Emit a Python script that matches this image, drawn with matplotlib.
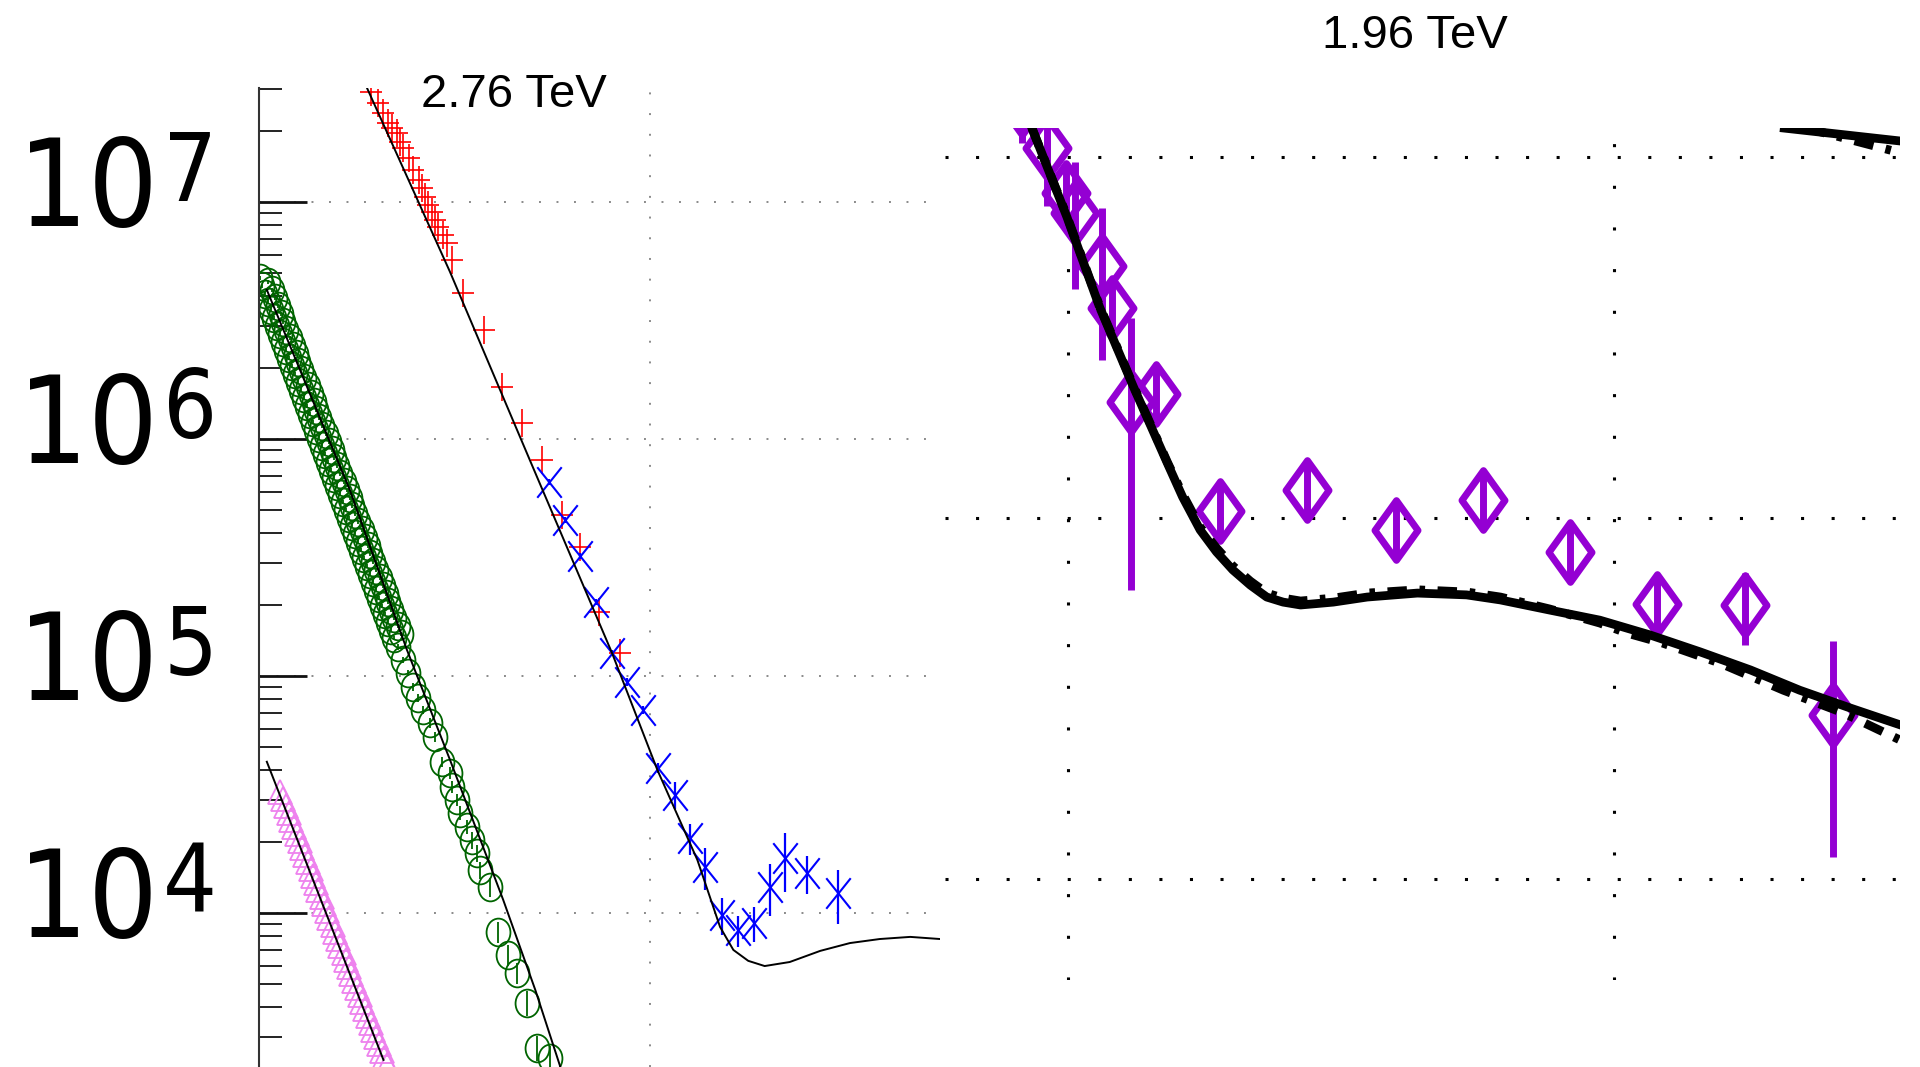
import numpy as np
import matplotlib
matplotlib.use("Agg")
import matplotlib.pyplot as plt
from matplotlib import font_manager
from matplotlib.path import Path
from matplotlib.ticker import LogLocator, NullFormatter, NullLocator, FixedLocator

plt.rcParams['lines.scale_dashes'] = False

# ---------------- 2.76 TeV panel: |t| [GeV^2] vs log10(dsigma/dt) ----------------
red_t = [0.143, 0.152, 0.159, 0.165, 0.170, 0.176, 0.180, 0.184, 0.191, 0.197,
         0.204, 0.208, 0.212, 0.216, 0.221, 0.225, 0.229, 0.235, 0.240, 0.246,
         0.261, 0.287, 0.310, 0.336, 0.361, 0.387, 0.410, 0.434, 0.461]
red_lg = [7.464, 7.417, 7.374, 7.332, 7.311, 7.290, 7.254, 7.227, 7.184, 7.135,
          7.093, 7.058, 7.022, 6.987, 6.959, 6.924, 6.896, 6.861, 6.826, 6.755,
          6.615, 6.460, 6.221, 6.066, 5.911, 5.679, 5.544, 5.271, 5.095]

blue_t = [0.370, 0.391, 0.410, 0.431, 0.451, 0.470, 0.491, 0.510, 0.531, 0.551,
          0.570, 0.591, 0.612, 0.632, 0.653, 0.672, 0.700, 0.740]
blue_lg = [5.820, 5.658, 5.506, 5.314, 5.096, 4.976, 4.857, 4.611, 4.498, 4.315,
           4.195, 3.992, 3.928, 3.957, 4.111, 4.231, 4.168, 4.083]
blue_rel_err = [0.03, 0.03, 0.03, 0.03, 0.03, 0.04, 0.04, 0.05, 0.13, 0.15,
                0.20, 0.18, 0.15, 0.17, 0.25, 0.28, 0.18, 0.26]

green_t = [0.001, 0.012, 0.004, 0.016, 0.008, 0.020, 0.012, 0.024, 0.015, 0.028,
           0.019, 0.031, 0.023, 0.035, 0.027, 0.039, 0.031, 0.043, 0.035, 0.047,
           0.038, 0.050, 0.042, 0.054, 0.046, 0.058, 0.050, 0.062, 0.054, 0.066,
           0.058, 0.070, 0.061, 0.073, 0.065, 0.077, 0.069, 0.081, 0.073, 0.085,
           0.077, 0.089, 0.081, 0.093, 0.084, 0.096, 0.088, 0.100, 0.092, 0.104,
           0.096, 0.108, 0.100, 0.112, 0.104, 0.116, 0.107, 0.119, 0.111, 0.123,
           0.115, 0.127, 0.119, 0.131, 0.123, 0.135, 0.127, 0.139, 0.130, 0.142,
           0.134, 0.146, 0.138, 0.150, 0.142, 0.154, 0.146, 0.158, 0.149, 0.162,
           0.153, 0.165, 0.157, 0.169, 0.161, 0.173, 0.165, 0.177, 0.169, 0.181,
           0.172,
           0.178, 0.184, 0.190, 0.197, 0.203, 0.210, 0.219, 0.225, 0.234, 0.244,
           0.247, 0.253, 0.257, 0.266, 0.272, 0.279, 0.282, 0.295, 0.305, 0.318,
           0.330, 0.342, 0.355, 0.372]
green_lg = [6.679, 6.662, 6.646, 6.629, 6.612, 6.595, 6.578, 6.561, 6.544, 6.527,
            6.511, 6.494, 6.477, 6.460, 6.443, 6.426, 6.409, 6.392, 6.375, 6.359,
            6.342, 6.325, 6.308, 6.291, 6.274, 6.257, 6.240, 6.224, 6.207, 6.190,
            6.173, 6.156, 6.139, 6.122, 6.105, 6.089, 6.072, 6.055, 6.038, 6.021,
            6.004, 5.987, 5.970, 5.954, 5.937, 5.920, 5.903, 5.886, 5.869, 5.852,
            5.835, 5.819, 5.802, 5.785, 5.768, 5.751, 5.734, 5.717, 5.700, 5.684,
            5.667, 5.650, 5.633, 5.616, 5.599, 5.582, 5.565, 5.549, 5.532, 5.515,
            5.498, 5.481, 5.464, 5.447, 5.430, 5.413, 5.397, 5.380, 5.363, 5.346,
            5.329, 5.312, 5.295, 5.278, 5.262, 5.245, 5.228, 5.211, 5.194, 5.177,
            5.160,
            5.122, 5.068, 5.013, 4.954, 4.907, 4.857, 4.802, 4.743, 4.637, 4.591,
            4.532, 4.477, 4.422, 4.363, 4.308, 4.253, 4.181, 4.110, 3.920, 3.823,
            3.747, 3.620, 3.430, 3.388]
green_rel_err = [0.02] * 91 + [0.03, 0.03, 0.03, 0.04, 0.04, 0.04, 0.05, 0.05, 0.05, 0.06,
                               0.06, 0.06, 0.07, 0.07, 0.08, 0.08, 0.08, 0.09, 0.10, 0.10,
                               0.10, 0.12, 0.12, 0.12]

violet_t = [0.027, 0.031, 0.034, 0.038, 0.041, 0.045, 0.048, 0.052, 0.055, 0.059,
            0.062, 0.066, 0.069, 0.073, 0.076, 0.080, 0.083, 0.087, 0.090, 0.094,
            0.097, 0.101, 0.104, 0.108, 0.111, 0.115, 0.118, 0.122, 0.125, 0.129,
            0.132, 0.136, 0.139, 0.143, 0.146, 0.150, 0.153, 0.157, 0.160, 0.164]
violet_lg = [4.511, 4.481, 4.452, 4.422, 4.392, 4.363, 4.333, 4.304, 4.274, 4.245,
             4.215, 4.186, 4.156, 4.127, 4.097, 4.068, 4.038, 4.008, 3.979, 3.949,
             3.920, 3.890, 3.861, 3.831, 3.802, 3.772, 3.743, 3.713, 3.684, 3.654,
             3.625, 3.595, 3.565, 3.536, 3.506, 3.477, 3.447, 3.418, 3.388, 3.359]

# model curves
model_rb_t = [0.138, 0.244, 0.346, 0.451, 0.509, 0.560, 0.589, 0.606, 0.625, 0.646,
              0.678, 0.717, 0.755, 0.793, 0.832, 0.870]
model_rb_lg = [7.481, 6.705, 5.911, 5.097, 4.603, 4.224, 3.941, 3.844, 3.798, 3.776,
               3.793, 3.840, 3.873, 3.890, 3.899, 3.890]
model_g_t = [0.010, 0.116, 0.189, 0.244, 0.312, 0.353, 0.385]
model_g_lg = [6.629, 5.785, 5.110, 4.646, 4.055, 3.675, 3.350]
model_v_t = [0.010, 0.159]
model_v_lg = [4.638, 3.380]

decades = [4, 5, 6, 7]

# ---------------- 1.96 TeV panel ----------------
d0_t = [0.458, 0.481, 0.498, 0.506, 0.531, 0.540, 0.558, 0.581, 0.639, 0.719,
        0.800, 0.880, 0.960, 1.039, 1.120, 1.201]
d0_y = [1.39, 1.06, 0.795, 0.700, 0.499, 0.382, 0.210, 0.221, 0.1045, 0.1196,
        0.0926, 0.1122, 0.0805, 0.0578, 0.0574, 0.0285]
d0_err = [0.30, 0.33, 0.14, 0.27, 0.225, 0.066, 0.147, 0.038, 0.018, 0.021,
          0.016, 0.019, 0.014, 0.010, 0.013, 0.017]

fit_t = [0.467, 0.499, 0.529, 0.560, 0.591, 0.605, 0.621, 0.636, 0.651, 0.667,
         0.682, 0.697, 0.713, 0.743, 0.774, 0.820, 0.865, 0.896, 0.941, 0.987,
         1.033, 1.079, 1.125, 1.170, 1.216, 1.262]
fit_lg = [0.080, -0.166, -0.416, -0.637, -0.848, -0.942, -1.033, -1.094, -1.144, -1.186,
          -1.219, -1.233, -1.241, -1.233, -1.219, -1.208, -1.213, -1.227, -1.255, -1.283,
          -1.324, -1.371, -1.421, -1.477, -1.526, -1.573]
fit2_t = [0.467, 0.499, 0.529, 0.560, 0.591, 0.605, 0.621, 0.636, 0.651, 0.667,
          0.682, 0.697, 0.713, 0.743, 0.774, 0.820, 0.865, 0.896, 0.941, 0.987,
          1.012, 1.044, 1.097, 1.155, 1.210, 1.262]
fit2_lg = [0.080, -0.163, -0.413, -0.634, -0.845, -0.934, -1.025, -1.083, -1.133, -1.175,
           -1.208, -1.222, -1.230, -1.222, -1.208, -1.199, -1.205, -1.219, -1.252, -1.291,
           -1.319, -1.346, -1.402, -1.477, -1.540, -1.615]
upper_t = [1.156, 1.263]
upper_lg = [0.080, 0.044]
upper2_t = [1.176, 1.263]
upper2_lg = [0.080, 0.011]

W, H = 1920, 1067
fig = plt.figure(figsize=(W / 100, H / 100), dpi=100)
fig.patch.set_facecolor('white')

# marker shapes (slightly taller than wide)
MV, LT = Path.MOVETO, Path.LINETO
plus_tall = Path([(-0.82, 0), (0.82, 0), (0, -1), (0, 1)], [MV, LT, MV, LT])
cross_tall = Path([(-0.8, -1), (0.8, 1), (-0.8, 1), (0.8, -1)], [MV, LT, MV, LT])
_uc = Path.unit_circle()
ellipse_tall = Path(_uc.vertices * np.array([0.86, 1.0]), _uc.codes)
diamond = Path([(0, 1), (0.72, 0), (0, -1), (-0.72, 0), (0, 1)],
               [MV, LT, LT, LT, Path.CLOSEPOLY])

# ---------- left panel ----------
axL = fig.add_axes([259 / W, 0.0, 681 / W, (H - 88) / H])
axL.set_yscale('log')
axL.set_xlim(0, 0.87)
axL.set_ylim(10 ** 3.350, 10 ** 7.481)
axL.xaxis.set_major_locator(NullLocator())
axL.yaxis.set_major_locator(FixedLocator([10.0 ** d for d in decades]))
axL.yaxis.set_minor_locator(LogLocator(base=10, subs=np.arange(2, 10), numticks=30))
axL.yaxis.set_minor_formatter(NullFormatter())
axL.tick_params(which='major', axis='y', direction='in', length=34.6, width=2.0,
                color='#111111', labelleft=False)
axL.tick_params(which='minor', axis='y', direction='in', length=16.6, width=1.4,
                color='#222222')
axL.tick_params(axis='x', bottom=False, labelbottom=False)
for s in ['top', 'right', 'bottom']:
    axL.spines[s].set_visible(False)
axL.spines['left'].set_linewidth(1.5)
axL.spines['left'].set_color('#333333')

for d in decades:
    axL.axhline(10.0 ** d, color='#8a8a8a', lw=1.4, dashes=(1.4, 11.2), zorder=0.5)
axL.axvline(0.5, color='#8a8a8a', lw=1.4, dashes=(1.4, 13.5), zorder=0.5)

axL.plot(violet_t, 10 ** np.array(violet_lg), ls='none', marker='^', ms=17,
         mfc='none', mec='#ee82ee', mew=1.3, zorder=2)

g_y = 10 ** np.array(green_lg)
axL.errorbar(green_t, g_y, yerr=g_y * np.array(green_rel_err), fmt='none',
             ecolor='#006400', elinewidth=1.3, capsize=0, zorder=2)
axL.plot(green_t, g_y, ls='none', marker=ellipse_tall, ms=20, mfc='none',
         mec='#006400', mew=1.3, zorder=2)

axL.plot(red_t, 10 ** np.array(red_lg), ls='none', marker=plus_tall, ms=20,
         mfc='none', mec='#ff0000', mew=1.2, zorder=2)

b_y = 10 ** np.array(blue_lg)
axL.errorbar(blue_t, b_y, yerr=b_y * np.array(blue_rel_err), fmt='none',
             ecolor='#0000ff', elinewidth=1.6, capsize=0, zorder=2)
axL.plot(blue_t, b_y, ls='none', marker=cross_tall, ms=22, mfc='none',
         mec='#0000ff', mew=1.5, zorder=2)

for tt, lg in [(model_rb_t, model_rb_lg), (model_g_t, model_g_lg), (model_v_t, model_v_lg)]:
    axL.plot(tt, 10 ** np.array(lg), color='black', lw=1.4, zorder=3)

# decade labels on the left axis
has_condensed = any(f.name == 'DejaVu Sans' and 'condensed' in str(f.stretch)
                    for f in font_manager.fontManager.ttflist)
if has_condensed:
    base_kw = dict(family='DejaVu Sans', fontstretch='condensed')
    base_size, exp_size, exp_x = 88, 68, 163
else:
    base_kw = dict(family='DejaVu Sans')
    base_size, exp_size, exp_x = 78, 62, 168
for d in decades:
    ty = 202 + (7 - d) * 237
    fig.text(18 / W, 1 - (ty + 24) / H, '10', fontsize=base_size,
             ha='left', va='baseline', **base_kw)
    fig.text(exp_x / W, 1 - (ty - 1) / H, str(d), fontsize=exp_size,
             ha='left', va='baseline', **base_kw)

fig.text(421 / W, 1 - 107 / H, '2.76 TeV', fontsize=34, family='Liberation Sans',
         ha='left', va='baseline')

# ---------- right panel ----------
axR = fig.add_axes([945 / W, 1 - 980 / H, 955 / W, (980 - 128) / H])
axR.set_yscale('log')
axR.set_xlim(0.3874, 1.2619)
axR.set_ylim(10 ** -2.2798, 10 ** 0.0803)
axR.axis('off')

for v in [1.0, 0.1, 0.01]:
    axR.axhline(v, color='black', lw=2.2, dashes=(2.2, 19.8), zorder=0.5)
for v in [0.5, 1.0]:
    axR.axvline(v, color='black', lw=2.2, dashes=(2.2, 27.8), zorder=0.5)

axR.errorbar(d0_t, d0_y, yerr=d0_err, fmt='none', ecolor='#9400d3', elinewidth=5,
             capsize=0, zorder=2)
axR.plot(d0_t, d0_y, ls='none', marker=diamond, ms=43, mfc='none', mec='#9400d3',
         mew=5, zorder=2)

axR.plot(fit_t, 10 ** np.array(fit_lg), color='black', lw=6.3, zorder=3)
axR.plot(fit2_t, 10 ** np.array(fit2_lg), color='black', lw=6.3,
         dashes=(14, 9, 4, 9), zorder=3)
axR.plot(upper_t, 10 ** np.array(upper_lg), color='black', lw=6.3, zorder=3)
axR.plot(upper2_t, 10 ** np.array(upper2_lg), color='black', lw=6.3,
         dashes=(14, 9, 4, 9), zorder=3)

fig.text(1322 / W, 1 - 48 / H, '1.96 TeV', fontsize=34, family='Liberation Sans',
         ha='left', va='baseline')

fig.savefig('out.png', dpi=100, facecolor='white')
